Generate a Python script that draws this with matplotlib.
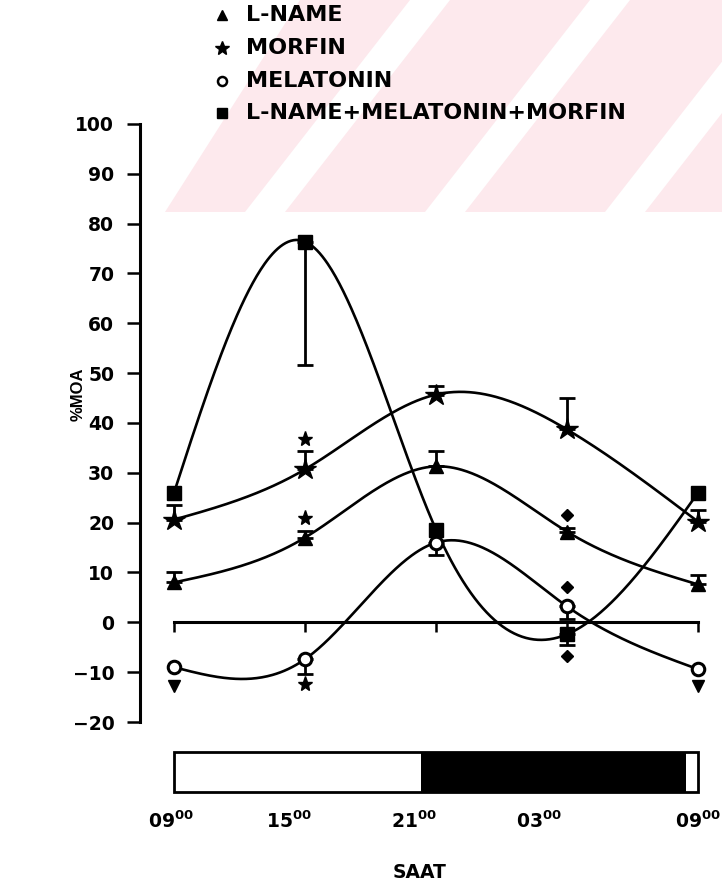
import numpy as np
import matplotlib.pyplot as plt
from matplotlib.patches import Rectangle, Polygon

# hours after 09:00
hours = [0, 6, 12, 18, 24]
time_labels = ["09", "15", "21", "03", "09"]

# %MOA means and errors (lower, upper) per group
lname = [8.0, 17.0, 31.3, 18.2, 7.6]
lname_lo = [0, 0, 0, 0, 0]
lname_hi = [2.0, 1.3, 3.0, 0.8, 1.8]

morfin = [20.6, 30.7, 45.7, 38.7, 20.2]
morfin_lo = [0, 0, 0, 0, 0]
morfin_hi = [2.9, 3.6, 1.8, 6.3, 2.4]

melatonin = [-9.0, -7.4, 16.0, 3.2, -9.4]
melatonin_lo = [0, 3.0, 2.4, 2.6, 0]
melatonin_hi = [0, 0, 0, 0, 0]

combo = [26.0, 76.4, 18.6, -2.4, 26.0]
combo_lo = [0, 24.7, 0, 2.2, 0]
combo_hi = [0, 0, 0, 0, 0]

# significance marks
sig_x = [6, 6, 6, 0, 24, 18, 18, 18]
sig_y = [36.7, 21.0, -12.4, -12.8, -12.8, 21.6, 7.0, -6.8]
sig_m = ["*", "*", "*", "v", "v", "D", "D", "D"]

# light / dark period (hours after 09:00)
light_dark = [("light", 0, 11.3), ("dark", 11.3, 23.45), ("light", 23.45, 24)]

legend_names = ["L-NAME", "MORFIN", "MELATONIN", "L-NAME+MELATONIN+MORFIN"]

plt.rcParams['font.family'] = "DejaVu Sans"
plt.rcParams['font.weight'] = 'bold'
plt.rcParams['mathtext.fontset'] = 'dejavusans'


def natural_spline(x, y, xs):
    x = np.asarray(x, float)
    y = np.asarray(y, float)
    n = len(x)
    h = np.diff(x)
    A = np.zeros((n, n))
    b = np.zeros(n)
    A[0, 0] = A[-1, -1] = 1
    for i in range(1, n - 1):
        A[i, i - 1] = h[i - 1]
        A[i, i] = 2 * (h[i - 1] + h[i])
        A[i, i + 1] = h[i]
        b[i] = 3 * ((y[i + 1] - y[i]) / h[i] - (y[i] - y[i - 1]) / h[i - 1])
    c = np.linalg.solve(A, b)
    bb = (y[1:] - y[:-1]) / h - h * (2 * c[:-1] + c[1:]) / 3
    d = (c[1:] - c[:-1]) / (3 * h)
    idx = np.clip(np.searchsorted(x, xs) - 1, 0, n - 2)
    dx = xs - x[idx]
    return y[idx] + bb[idx] * dx + c[idx] * dx ** 2 + d[idx] * dx ** 3


W, H = 722, 896
fig = plt.figure(figsize=(W / 100, H / 100), dpi=100)

# background / overlay in pixel coords
bg = fig.add_axes([0, 0, 1, 1], zorder=0)
bg.set_xlim(0, W)
bg.set_ylim(H, 0)
bg.axis('off')

# faded pink watermark with diagonal white bands
pink = "#fde9ed"
bg.add_patch(Polygon([(165, 212), (300, 0), (W, 0), (W, 212)], closed=True,
                     facecolor=pink, edgecolor='none', zorder=0))
for xb in [245, 425, 605, 785]:
    bg.add_patch(Polygon([(xb, 212), (xb + 40, 212), (xb + 205, 0), (xb + 165, 0)],
                         closed=True, facecolor='white', edgecolor='none', zorder=1))

# legend
leg_y = [15, 48, 81, 113]
leg_style = [dict(marker='^', ms=7, mfc='black'),
             dict(marker='*', ms=10, mfc='black'),
             dict(marker='o', ms=6.5, mfc='white', mew=1.8),
             dict(marker='s', ms=7, mfc='black')]
for yy, name, st in zip(leg_y, legend_names, leg_style):
    bg.plot([222], [yy], color='black', mec='black', ls='none', zorder=5, **st)
    bg.text(246, yy, name, fontsize=16, fontweight='bold', va='center', ha='left', zorder=5)

# main axes
ax = fig.add_axes([140 / W, (H - 722) / H, 582 / W, 598 / H], zorder=1)
ax.patch.set_alpha(0)
px_per_h = 131 / 6
ax.set_xlim((140 - 174) / px_per_h, (722 - 174) / px_per_h)
ax.set_ylim(-20, 100)
for s in ['top', 'right', 'bottom']:
    ax.spines[s].set_visible(False)
ax.spines['left'].set_linewidth(2.2)
ax.set_xticks([])
ax.set_yticks(range(-20, 101, 10))
ax.set_yticklabels([str(v).replace('-', '\u2212') for v in range(-20, 101, 10)])
ax.tick_params(axis='y', direction='out', length=9.5, width=1.8, pad=9, labelsize=13.5)
for lab in ax.get_yticklabels():
    lab.set_fontweight('bold')

# zero line with ticks
ax.plot([hours[0], hours[-1]], [0, 0], color='black', lw=2.2, zorder=2)
ax.vlines(hours, -2, 0, color='black', lw=1.8, zorder=2)

xs = np.linspace(hours[0], hours[-1], 400)
series = [
    (lname, lname_lo, lname_hi, dict(marker='^', ms=10, mfc='black', mew=1)),
    (morfin, morfin_lo, morfin_hi, dict(marker='*', ms=16, mfc='black', mew=1)),
    (melatonin, melatonin_lo, melatonin_hi, dict(marker='o', ms=9, mfc='white', mew=2.2)),
    (combo, combo_lo, combo_hi, dict(marker='s', ms=10.5, mfc='black', mew=1)),
]
for vals, lo, hi, st in series:
    ax.plot(xs, natural_spline(hours, vals, xs), color='black', lw=1.9, zorder=3)
    h_arr = np.array(hours, float)
    v_arr = np.array(vals, float)
    lo = np.array(lo, float)
    hi = np.array(hi, float)
    m = hi > 0
    if m.any():
        ax.errorbar(h_arr[m], v_arr[m], yerr=[np.zeros(m.sum()), hi[m]], fmt='none',
                    ecolor='black', elinewidth=2, capsize=6, capthick=2, zorder=3)
    m = lo > 0
    if m.any():
        ax.errorbar(h_arr[m], v_arr[m], yerr=[lo[m], np.zeros(m.sum())], fmt='none',
                    ecolor='black', elinewidth=2, capsize=6, capthick=2, zorder=3)
    ax.plot(hours, vals, ls='none', color='black', mec='black', zorder=4,
            clip_on=False, **st)

# significance symbols
sig_size = {"*": 11, "v": 8, "D": 6.5}
for x, y, mk in zip(sig_x, sig_y, sig_m):
    ax.plot([x], [y], marker=mk, ms=sig_size[mk], color='black', ls='none', zorder=4)

# light/dark bar
bar_lo, bar_hi = -34.0, -26.0
for kind, a, b in light_dark:
    ax.add_patch(Rectangle((a, bar_lo), b - a, bar_hi - bar_lo,
                           facecolor='white' if kind == 'light' else 'black',
                           edgecolor='none', clip_on=False, zorder=2))
ax.add_patch(Rectangle((hours[0], bar_lo), hours[-1] - hours[0], bar_hi - bar_lo,
                       facecolor='none', edgecolor='black', lw=2, clip_on=False, zorder=3))

# time labels
label_shift = [-0.14, -0.73, -1.0, -1.28, 0.0]
for hx, t, sh in zip(hours, time_labels, label_shift):
    ax.text(hx + sh, -40, t + r"$^{\mathbf{00}}$", fontsize=13.5, fontweight='bold',
            ha='center', va='center', clip_on=False)

fig.text(78 / W, 1 - 394 / H, "%MOA", rotation=90, fontsize=12, fontweight='bold',
         family="Liberation Sans", ha='center', va='center')
fig.text(420 / W, 1 - 872 / H, "SAAT", fontsize=13.5, fontweight='bold',
         ha='center', va='center')

fig.savefig("out.png", dpi=100)
